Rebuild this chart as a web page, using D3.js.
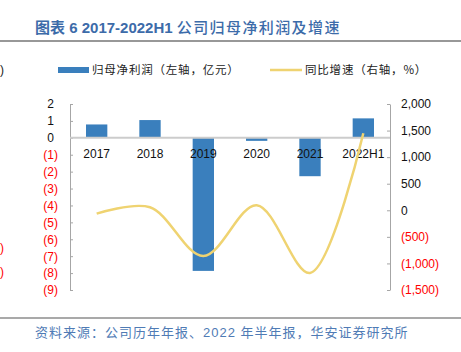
<!DOCTYPE html>
<html>
<head>
<meta charset="utf-8">
<script src="https://cdn.jsdelivr.net/npm/d3@7"></script>
<style>
  body { margin: 0; background: #fff; }
  svg { display: block; }
</style>
</head>
<body>
<div id="chart"></div>
<script>
const years = ['2017', '2018', '2019', '2020', '2021', '2022H1'];
const profit = [0.79, 1.05, -7.87, -0.18, -2.27, 1.15];
const growth = [-62, 56, -860, 95, -1180, 1450];
const leftTicks = [2, 1, 0, -1, -2, -3, -4, -5, -6, -7, -8, -9];
const rightTicks = [2000, 1500, 1000, 500, 0, -500, -1000, -1500];

const width = 461, height = 352;
const COLORS = { bar: '#3a7fbd', line: '#efd371', title: '#3c6ba9', red: '#ff0000', axis: '#a6a6a6', zero: '#cccccc' };
const plot = { left: 70, right: 390, top: 104, bottom: 290 };
const latin = '"Liberation Sans", Arial, sans-serif';
const cjk = '"Noto Sans CJK SC", "Liberation Sans", sans-serif';
const mixed = '"Liberation Sans", "Noto Sans CJK SC", sans-serif';

const svg = d3.select('#chart').append('svg')
    .attr('width', width).attr('height', height);

// Title and rules
const title = svg.append('text')
    .attr('x', 35).attr('y', 33)
    .attr('font-size', 15)
    .attr('fill', COLORS.title);
title.append('tspan').attr('font-family', cjk).attr('font-weight', 'bold').text('图表');
title.append('tspan').attr('font-family', latin).attr('font-weight', 'bold').text(' 6 2017-2022H1 ');
title.append('tspan').attr('font-family', cjk).attr('font-weight', 500).attr('letter-spacing', 1.4).text('公司归母净利润及增速');

svg.append('line').attr('x1', 0).attr('x2', width).attr('y1', 41).attr('y2', 41)
    .attr('stroke', '#333').attr('stroke-width', 1.2);
svg.append('line').attr('x1', 0).attr('x2', width).attr('y1', 318).attr('y2', 318)
    .attr('stroke', '#555').attr('stroke-width', 1.2);
svg.append('text')
    .attr('x', 35).attr('y', 337)
    .attr('font-family', mixed).attr('font-size', 13).attr('letter-spacing', 1)
    .attr('fill', '#4f7bb5')
    .text('资料来源：公司历年年报、2022 年半年报，华安证券研究所');

// Clipped leftovers at the left edge
svg.append('text').attr('x', 0).attr('y', 74).attr('font-family', latin).attr('font-size', 12).attr('fill', '#222').text(')');
svg.append('text').attr('x', 0).attr('y', 252).attr('font-family', latin).attr('font-size', 12).attr('fill', COLORS.red).text(')');
svg.append('text').attr('x', 0).attr('y', 276).attr('font-family', latin).attr('font-size', 12).attr('fill', COLORS.red).text(')');

// Scales
const x = d3.scaleBand().domain(years).range([plot.left, plot.right]).paddingInner(0.6).paddingOuter(0.3);
const xc = (d) => x(d) + x.bandwidth() / 2;
const yL = d3.scaleLinear().domain([-9, 2]).range([plot.bottom, plot.top]);
const yR = d3.scaleLinear().domain([-1500, 2000]).range([plot.bottom, plot.top]);

const fmt = d3.format(',');
const paren = (v) => v < 0 ? `(${fmt(-v)})` : fmt(v);

// Left axis
const gL = svg.append('g').attr('transform', `translate(${plot.left},0)`)
    .call(d3.axisLeft(yL).tickValues(leftTicks).tickSizeInner(-3).tickSizeOuter(0).tickPadding(12).tickFormat(paren));
gL.select('.domain').attr('stroke', COLORS.axis);
gL.selectAll('.tick line').attr('stroke', COLORS.axis);
gL.selectAll('.tick text')
    .attr('font-family', latin).attr('font-size', 12)
    .attr('fill', (d) => d < 0 ? COLORS.red : '#111')
    .attr('dx', (d) => d < 0 ? 0 : -4);

// Right axis
const gR = svg.append('g').attr('transform', `translate(${plot.right},0)`)
    .call(d3.axisRight(yR).tickValues(rightTicks).tickSizeInner(-3).tickSizeOuter(0).tickPadding(11).tickFormat(paren));
gR.select('.domain').attr('stroke', COLORS.axis);
gR.selectAll('.tick line').attr('stroke', COLORS.axis);
gR.selectAll('.tick text')
    .attr('font-family', latin).attr('font-size', 12)
    .attr('fill', (d) => d < 0 ? COLORS.red : '#111');

// Bars
svg.append('g').selectAll('rect').data(years).enter().append('rect')
    .attr('x', (d) => x(d))
    .attr('y', (d, i) => yL(Math.max(0, profit[i])))
    .attr('width', x.bandwidth())
    .attr('height', (d, i) => Math.abs(yL(profit[i]) - yL(0)))
    .attr('fill', COLORS.bar);

// Zero line
svg.append('line')
    .attr('x1', plot.left).attr('x2', plot.right)
    .attr('y1', yL(0)).attr('y2', yL(0))
    .attr('stroke', COLORS.zero).attr('stroke-width', 2);

// Category labels
svg.append('g').selectAll('text').data(years).enter().append('text')
    .attr('x', (d) => xc(d)).attr('y', 158)
    .attr('text-anchor', 'middle')
    .attr('font-family', latin).attr('font-size', 12).attr('fill', '#111')
    .text((d) => d);

// Growth line
const line = d3.line()
    .x((d, i) => xc(years[i]))
    .y((d) => yR(d))
    .curve(d3.curveCatmullRom.alpha(0.5));
svg.append('path').datum(growth)
    .attr('d', line)
    .attr('fill', 'none')
    .attr('stroke', COLORS.line).attr('stroke-width', 2.5);

// Legend
svg.append('rect').attr('x', 58).attr('y', 67).attr('width', 31).attr('height', 6).attr('fill', COLORS.bar);
svg.append('text').attr('x', 92).attr('y', 74)
    .attr('font-family', cjk).attr('font-size', 11.5).attr('letter-spacing', 0.8).attr('fill', '#222')
    .text('归母净利润（左轴，亿元）');
svg.append('line').attr('x1', 270).attr('x2', 302).attr('y1', 70).attr('y2', 70)
    .attr('stroke', COLORS.line).attr('stroke-width', 2.5);
svg.append('text').attr('x', 305).attr('y', 74)
    .attr('font-family', cjk).attr('font-size', 11.5).attr('letter-spacing', 0.8).attr('fill', '#222')
    .text('同比增速（右轴，%）');
</script>
</body>
</html>
